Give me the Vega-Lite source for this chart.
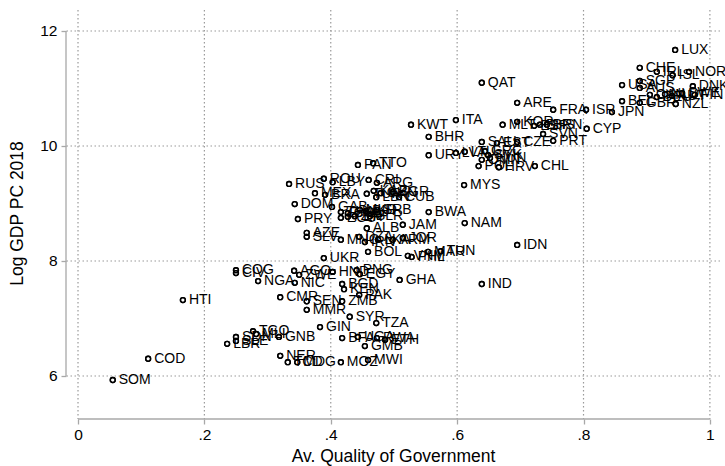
{
  "$schema": "https://vega.github.io/schema/vega-lite/v6.json",
  "width": 654,
  "height": 409,
  "autosize": {"type": "none"},
  "padding": {"left": 66, "top": 10, "right": 5, "bottom": 47},
  "background": "white",
  "config": {
    "view": {"stroke": null},
    "font": "Liberation Sans"
  },
  "data": {"values": [
    {"c": "LUX", "qog": 0.945, "gdp": 11.67},
    {"c": "CHE", "qog": 0.889, "gdp": 11.36},
    {"c": "IRL", "qog": 0.916, "gdp": 11.29},
    {"c": "ISL", "qog": 0.941, "gdp": 11.23},
    {"c": "NOR", "qog": 0.967, "gdp": 11.29},
    {"c": "USA", "qog": 0.861, "gdp": 11.06},
    {"c": "SGP", "qog": 0.889, "gdp": 11.13},
    {"c": "AUS", "qog": 0.889, "gdp": 11.01},
    {"c": "DNK", "qog": 0.973, "gdp": 11.04},
    {"c": "BEL", "qog": 0.861, "gdp": 10.78},
    {"c": "CAN", "qog": 0.905, "gdp": 10.89},
    {"c": "DEU", "qog": 0.916, "gdp": 10.85},
    {"c": "NLD", "qog": 0.929, "gdp": 10.90},
    {"c": "AUT", "qog": 0.940, "gdp": 10.87},
    {"c": "SWE", "qog": 0.956, "gdp": 10.92},
    {"c": "FIN", "qog": 0.976, "gdp": 10.89},
    {"c": "GBR", "qog": 0.889, "gdp": 10.75},
    {"c": "NZL", "qog": 0.946, "gdp": 10.73},
    {"c": "JPN", "qog": 0.845, "gdp": 10.59},
    {"c": "ISR", "qog": 0.804, "gdp": 10.63},
    {"c": "FRA", "qog": 0.752, "gdp": 10.63},
    {"c": "ARE", "qog": 0.695, "gdp": 10.75},
    {"c": "QAT", "qog": 0.639, "gdp": 11.10},
    {"c": "KWT", "qog": 0.527, "gdp": 10.37},
    {"c": "ITA", "qog": 0.598, "gdp": 10.45},
    {"c": "BHR", "qog": 0.555, "gdp": 10.16},
    {"c": "MLT", "qog": 0.672, "gdp": 10.37},
    {"c": "KOR", "qog": 0.695, "gdp": 10.42},
    {"c": "ESP", "qog": 0.722, "gdp": 10.35},
    {"c": "BHS", "qog": 0.731, "gdp": 10.37},
    {"c": "BRN", "qog": 0.742, "gdp": 10.37},
    {"c": "SVN", "qog": 0.736, "gdp": 10.21},
    {"c": "PRT", "qog": 0.752, "gdp": 10.09},
    {"c": "CYP", "qog": 0.805, "gdp": 10.30},
    {"c": "CZE", "qog": 0.695, "gdp": 10.07},
    {"c": "SAU", "qog": 0.639, "gdp": 10.07},
    {"c": "EST", "qog": 0.663, "gdp": 10.05},
    {"c": "URY", "qog": 0.555, "gdp": 9.84},
    {"c": "LVA", "qog": 0.598, "gdp": 9.88},
    {"c": "LTU", "qog": 0.612, "gdp": 9.90},
    {"c": "SVK", "qog": 0.649, "gdp": 9.84},
    {"c": "GRC", "qog": 0.644, "gdp": 9.91},
    {"c": "HUN", "qog": 0.652, "gdp": 9.79},
    {"c": "OMN", "qog": 0.639, "gdp": 9.76},
    {"c": "POL", "qog": 0.634, "gdp": 9.65},
    {"c": "HRV", "qog": 0.666, "gdp": 9.63},
    {"c": "CHL", "qog": 0.723, "gdp": 9.65},
    {"c": "MYS", "qog": 0.611, "gdp": 9.32},
    {"c": "PAN", "qog": 0.443, "gdp": 9.67},
    {"c": "TTO", "qog": 0.467, "gdp": 9.70},
    {"c": "RUS", "qog": 0.334, "gdp": 9.34},
    {"c": "ROU", "qog": 0.389, "gdp": 9.43},
    {"c": "LBY", "qog": 0.403, "gdp": 9.37},
    {"c": "CRI", "qog": 0.460, "gdp": 9.41},
    {"c": "ARG", "qog": 0.473, "gdp": 9.36},
    {"c": "MEX", "qog": 0.375, "gdp": 9.18},
    {"c": "BRA", "qog": 0.391, "gdp": 9.15},
    {"c": "TUR", "qog": 0.457, "gdp": 9.17},
    {"c": "KAZ", "qog": 0.468, "gdp": 9.22},
    {"c": "CHN", "qog": 0.479, "gdp": 9.18},
    {"c": "BGR", "qog": 0.498, "gdp": 9.20},
    {"c": "LBN", "qog": 0.472, "gdp": 9.11},
    {"c": "CUB", "qog": 0.508, "gdp": 9.11},
    {"c": "DOM", "qog": 0.343, "gdp": 8.99},
    {"c": "GAB", "qog": 0.402, "gdp": 8.94},
    {"c": "PRY", "qog": 0.348, "gdp": 8.73},
    {"c": "THA", "qog": 0.416, "gdp": 8.85},
    {"c": "ECU", "qog": 0.416, "gdp": 8.75},
    {"c": "COL", "qog": 0.427, "gdp": 8.83},
    {"c": "PER", "qog": 0.427, "gdp": 8.77},
    {"c": "ZAF", "qog": 0.438, "gdp": 8.78},
    {"c": "MKD", "qog": 0.446, "gdp": 8.89},
    {"c": "BIH", "qog": 0.456, "gdp": 8.87},
    {"c": "SRB", "qog": 0.473, "gdp": 8.89},
    {"c": "BLR", "qog": 0.462, "gdp": 8.78},
    {"c": "BWA", "qog": 0.555, "gdp": 8.85},
    {"c": "NAM", "qog": 0.612, "gdp": 8.66},
    {"c": "ALB", "qog": 0.457, "gdp": 8.57},
    {"c": "JAM", "qog": 0.514, "gdp": 8.63},
    {"c": "AZE", "qog": 0.362, "gdp": 8.49},
    {"c": "SLV", "qog": 0.362, "gdp": 8.42},
    {"c": "MNG", "qog": 0.416, "gdp": 8.37},
    {"c": "DZA", "qog": 0.445, "gdp": 8.42},
    {"c": "IRN", "qog": 0.454, "gdp": 8.33},
    {"c": "LKA", "qog": 0.475, "gdp": 8.37},
    {"c": "ARM", "qog": 0.498, "gdp": 8.37},
    {"c": "JOR", "qog": 0.514, "gdp": 8.40},
    {"c": "IDN", "qog": 0.695, "gdp": 8.28},
    {"c": "UKR", "qog": 0.389, "gdp": 8.05},
    {"c": "BOL", "qog": 0.459, "gdp": 8.16},
    {"c": "VNM", "qog": 0.522, "gdp": 8.09},
    {"c": "PHL", "qog": 0.528, "gdp": 8.07},
    {"c": "MAR", "qog": 0.554, "gdp": 8.16},
    {"c": "TUN", "qog": 0.574, "gdp": 8.17},
    {"c": "IND", "qog": 0.639, "gdp": 7.60},
    {"c": "COG", "qog": 0.250, "gdp": 7.84},
    {"c": "CIV", "qog": 0.250, "gdp": 7.79},
    {"c": "NGA", "qog": 0.285, "gdp": 7.65},
    {"c": "AGO", "qog": 0.342, "gdp": 7.83},
    {"c": "ZWE", "qog": 0.350, "gdp": 7.76},
    {"c": "NIC", "qog": 0.343, "gdp": 7.62},
    {"c": "HND", "qog": 0.403, "gdp": 7.81},
    {"c": "PNG", "qog": 0.441, "gdp": 7.84},
    {"c": "EGY", "qog": 0.446, "gdp": 7.77},
    {"c": "GHA", "qog": 0.509, "gdp": 7.67},
    {"c": "BGD", "qog": 0.418, "gdp": 7.60},
    {"c": "KEN", "qog": 0.421, "gdp": 7.51},
    {"c": "PAK", "qog": 0.445, "gdp": 7.41},
    {"c": "CMR", "qog": 0.320, "gdp": 7.37},
    {"c": "SEN", "qog": 0.362, "gdp": 7.30},
    {"c": "ZMB", "qog": 0.418, "gdp": 7.30},
    {"c": "MMR", "qog": 0.362, "gdp": 7.15},
    {"c": "HTI", "qog": 0.166, "gdp": 7.32},
    {"c": "SYR", "qog": 0.430, "gdp": 7.03},
    {"c": "TZA", "qog": 0.472, "gdp": 6.92},
    {"c": "GIN", "qog": 0.383, "gdp": 6.85},
    {"c": "TGO", "qog": 0.277, "gdp": 6.78},
    {"c": "MLI", "qog": 0.282, "gdp": 6.73},
    {"c": "GNB", "qog": 0.318, "gdp": 6.68},
    {"c": "SDN", "qog": 0.250, "gdp": 6.68},
    {"c": "SLE", "qog": 0.250, "gdp": 6.61},
    {"c": "LBR", "qog": 0.236, "gdp": 6.56},
    {"c": "BFA", "qog": 0.418, "gdp": 6.66},
    {"c": "UGA", "qog": 0.443, "gdp": 6.68},
    {"c": "RWA", "qog": 0.473, "gdp": 6.66},
    {"c": "GMB", "qog": 0.454, "gdp": 6.52},
    {"c": "ETH", "qog": 0.486, "gdp": 6.63},
    {"c": "NER", "qog": 0.320, "gdp": 6.35},
    {"c": "TCD", "qog": 0.332, "gdp": 6.24},
    {"c": "MDG", "qog": 0.347, "gdp": 6.24},
    {"c": "MOZ", "qog": 0.416, "gdp": 6.24},
    {"c": "MWI", "qog": 0.459, "gdp": 6.28},
    {"c": "COD", "qog": 0.111, "gdp": 6.30},
    {"c": "SOM", "qog": 0.055, "gdp": 5.93}
  ]},
  "layer": [
    {
      "mark": {"type": "point", "shape": "circle", "filled": false, "color": "black", "size": 24, "strokeWidth": 1.4, "opacity": 1, "clip": false},
      "encoding": {
        "x": {
          "field": "qog", "type": "quantitative",
          "scale": {"domain": [-0.019, 1.016], "nice": false, "zero": false},
          "axis": {
            "title": "Av. Quality of Government",
            "titleFont": "Liberation Sans", "titleFontSize": 17.5, "titleFontWeight": "normal", "titleColor": "black", "titlePadding": 5,
            "values": [0, 0.2, 0.4, 0.6, 0.8, 1],
            "labelExpr": "datum.value == 0 ? '0' : datum.value == 1 ? '1' : replace(format(datum.value, '.1f'), '0.', '.')",
            "labelFont": "Liberation Sans", "labelFontSize": 15.5, "labelColor": "black", "labelPadding": 3,
            "domain": false, "ticks": true, "tickSize": 5, "tickColor": "#a8a8a8", "tickWidth": 1.3,
            "grid": false
          }
        },
        "y": {
          "field": "gdp", "type": "quantitative",
          "scale": {"domain": [5.252, 12.365], "nice": false, "zero": false},
          "axis": {
            "title": "Log GDP PC 2018",
            "titleFont": "Liberation Sans", "titleFontSize": 17.5, "titleFontWeight": "normal", "titleColor": "black",
            "titleX": -44, "titleY": 203, "titleBaseline": "alphabetic", "titleAngle": -90, "titleAlign": "center",
            "values": [6, 8, 10, 12],
            "labelExpr": "format(datum.value, 'd')",
            "labelFont": "Liberation Sans", "labelFontSize": 15.5, "labelColor": "black", "labelPadding": 4,
            "domain": false, "ticks": true, "tickSize": 5, "tickColor": "#a8a8a8", "tickWidth": 1.3,
            "grid": false
          }
        }
      }
    },
    {
      "data": {"values": [{"g": 0}, {"g": 0.2}, {"g": 0.4}, {"g": 0.6}, {"g": 0.8}, {"g": 1}]},
      "mark": {"type": "rule", "color": "#9a9a9a", "strokeWidth": 1.2, "strokeDash": [1.5, 2.5]},
      "encoding": {
        "x": {"field": "g", "type": "quantitative"}
      }
    },
    {
      "data": {"values": [{"h": 6}, {"h": 8}, {"h": 10}, {"h": 12}]},
      "mark": {"type": "rule", "color": "#9a9a9a", "strokeWidth": 1.2, "strokeDash": [1.5, 2.5]},
      "encoding": {
        "y": {"field": "h", "type": "quantitative"}
      }
    },
    {
      "mark": {"type": "point", "shape": "circle", "filled": false, "color": "black", "size": 24, "strokeWidth": 1.4, "opacity": 1, "clip": false},
      "encoding": {
        "x": {"field": "qog", "type": "quantitative"},
        "y": {"field": "gdp", "type": "quantitative"}
      }
    },
    {
      "mark": {"type": "text", "align": "left", "baseline": "middle", "dx": 6, "fontSize": 14, "font": "Liberation Sans", "color": "black", "clip": false},
      "encoding": {
        "x": {"field": "qog", "type": "quantitative"},
        "y": {"field": "gdp", "type": "quantitative"},
        "text": {"field": "c"}
      }
    },
    {
      "data": {"values": [{}]},
      "mark": {"type": "rule", "color": "#a8a8a8", "strokeWidth": 1.3},
      "encoding": {
        "x": {"datum": 0, "type": "quantitative"},
        "x2": {"datum": 1},
        "y": {"datum": 5.252, "type": "quantitative"}
      }
    },
    {
      "data": {"values": [{}]},
      "mark": {"type": "rule", "color": "#a8a8a8", "strokeWidth": 1.3},
      "encoding": {
        "x": {"datum": -0.019, "type": "quantitative"},
        "y": {"datum": 6, "type": "quantitative"},
        "y2": {"datum": 12}
      }
    }
  ]
}
